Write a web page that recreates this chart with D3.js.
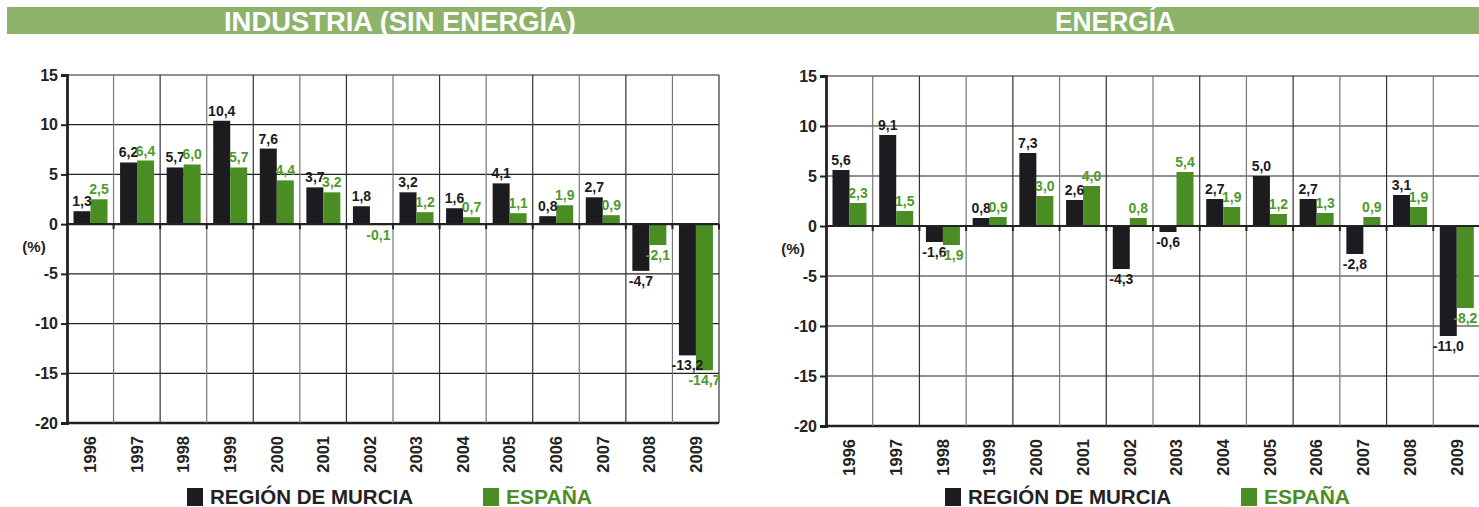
<!DOCTYPE html>
<html>
<head>
<meta charset="utf-8">
<script src="https://cdn.jsdelivr.net/npm/d3@7"></script>
<style>
  body { margin: 0; background: #fff; }
  svg { display: block; font-family: "Liberation Sans", Arial, sans-serif; }
</style>
</head>
<body>
<div id="chart"></div>
<script>
// data
var years = ["1996","1997","1998","1999","2000","2001","2002","2003","2004","2005","2006","2007","2008","2009"];
var series = ["REGIÓN DE MURCIA", "ESPAÑA"];
var yTicks = [15, 10, 5, 0, -5, -10, -15, -20];

var industriaMurcia = [1.3, 6.2, 5.7, 10.4, 7.6, 3.7, 1.8, 3.2, 1.6, 4.1, 0.8, 2.7, -4.7, -13.2];
var industriaEspana = [2.5, 6.4, 6.0, 5.7, 4.4, 3.2, -0.1, 1.2, 0.7, 1.1, 1.9, 0.9, -2.1, -14.7];
var energiaMurcia = [5.6, 9.1, -1.6, 0.8, 7.3, 2.6, -4.3, -0.6, 2.7, 5.0, 2.7, -2.8, 3.1, -11.0];
var energiaEspana = [2.3, 1.5, -1.9, 0.9, 3.0, 4.0, 0.8, 5.4, 1.9, 1.2, 1.3, 0.9, 1.9, -8.2];

var width = 1479, height = 507;
var dark = "#1c1b20", green = "#4a8e23", greenText = "#4f9a2a";

var svg = d3.select("#chart").append("svg")
    .attr("width", width)
    .attr("height", height);

// title band
svg.append("rect")
    .attr("x", 7).attr("y", 7)
    .attr("width", width - 7).attr("height", 27)
    .attr("fill", "#8db36b");

var fmt = function(v) { return d3.format(".1f")(v).replace(".", ",").replace("\u2212", "-"); };
var fmtTick = function(v) { return d3.format("d")(v).replace("\u2212", "-"); };

function drawChart(opt) {
  var g = svg.append("g").attr("transform", "translate(" + opt.left + "," + opt.top + ")");
  var innerWidth = opt.w, innerHeight = opt.h;

  var x0 = d3.scaleBand().domain(years).range([0, innerWidth]).paddingInner(0);
  var x1 = d3.scaleBand().domain(series).range([6.5, 40.5]);
  var y = d3.scaleLinear().domain([-20, 15]).range([innerHeight, 0]);

  var data = years.map(function(yr, i) {
    return { year: yr, vals: [
      { key: series[0], value: opt.a[i] },
      { key: series[1], value: opt.b[i] }
    ]};
  });

  // horizontal grid
  g.append("g").selectAll("line")
    .data(yTicks)
    .enter().append("line")
      .attr("x1", 0).attr("x2", innerWidth)
      .attr("y1", function(d) { return y(d); })
      .attr("y2", function(d) { return y(d); })
      .attr("stroke", "#222")
      .attr("stroke-width", function(d) { return d === -20 ? 2.5 : 1.2; });

  // vertical grid at column boundaries
  g.append("g").selectAll("line")
    .data(years.slice(1).concat(["end"]))
    .enter().append("line")
      .attr("x1", function(d, i) { return x0.step() * (i + 1); })
      .attr("x2", function(d, i) { return x0.step() * (i + 1); })
      .attr("y1", y(15)).attr("y2", y(-20))
      .attr("stroke", function(d, i) { return i % 2 ? "#333" : "#777"; })
      .attr("stroke-width", 1.2);

  var col = g.append("g").selectAll("g")
    .data(data)
    .enter().append("g")
      .attr("transform", function(d) { return "translate(" + x0(d.year) + ",0)"; });

  col.selectAll("rect")
    .data(function(d) { return d.vals; })
    .enter().append("rect")
      .attr("x", function(d) { return x1(d.key); })
      .attr("y", function(d) { return y(Math.max(0, d.value)); })
      .attr("width", x1.bandwidth())
      .attr("height", function(d) { return Math.abs(y(d.value) - y(0)); })
      .attr("fill", function(d, i) { return i ? green : dark; });

  col.selectAll("text")
    .data(function(d) { return d.vals; })
    .enter().append("text")
      .text(function(d) { return fmt(d.value); })
      .attr("x", function(d) { return x1(d.key) + x1.bandwidth() / 2; })
      .attr("y", function(d) { return d.value >= 0 ? y(d.value) - 5 : y(d.value) + 15; })
      .attr("text-anchor", "middle")
      .attr("font-size", "14px")
      .attr("font-weight", "bold")
      .attr("fill", function(d, i) { return i ? greenText : dark; });

  // zero line with small ticks
  g.append("line")
    .attr("x1", 0).attr("x2", innerWidth)
    .attr("y1", y(0)).attr("y2", y(0))
    .attr("stroke", "#222").attr("stroke-width", 2.2);
  g.append("g").selectAll("line")
    .data(years.slice(1).concat(["end"]))
    .enter().append("line")
      .attr("x1", function(d, i) { return x0.step() * (i + 1); })
      .attr("x2", function(d, i) { return x0.step() * (i + 1); })
      .attr("y1", y(0)).attr("y2", y(0) + 5)
      .attr("stroke", "#222").attr("stroke-width", 2);

  // left axis
  var ya = g.append("g")
    .call(d3.axisLeft(y).tickValues(yTicks).tickSize(6).tickPadding(3).tickFormat(fmtTick));
  ya.select(".domain").attr("stroke", "#222").attr("stroke-width", 2.8);
  ya.selectAll(".tick line").attr("stroke", "#222").attr("stroke-width", 2);
  ya.selectAll(".tick text")
    .attr("font-family", "Liberation Sans, Arial, sans-serif")
    .attr("font-size", "16px")
    .attr("font-weight", "bold")
    .attr("fill", "#222");

  g.append("text")
    .attr("x", -33).attr("y", y(0) + 28)
    .attr("text-anchor", "middle")
    .attr("font-size", "15px").attr("font-weight", "bold").attr("fill", "#222")
    .text("(%)");

  // year labels
  g.append("g").selectAll("text")
    .data(years)
    .enter().append("text")
      .attr("transform", function(d) {
        return "translate(" + (x0(d) + x0.bandwidth() / 2) + "," + (innerHeight + 13) + ") rotate(-90)";
      })
      .attr("text-anchor", "end")
      .attr("dy", "0.36em")
      .attr("font-size", "16.5px").attr("font-weight", "bold").attr("fill", "#222")
      .text(function(d) { return d; });

  // title
  svg.append("text")
    .attr("x", opt.titleX).attr("y", 31)
    .attr("text-anchor", "middle")
    .attr("font-size", "27px").attr("font-weight", "bold").attr("fill", "#fff")
    .attr("textLength", opt.titleLen).attr("lengthAdjust", "spacingAndGlyphs")
    .text(opt.title);

  // legend
  var lg = svg.append("g").attr("transform", "translate(" + opt.legendX + ",488)");
  lg.append("rect").attr("x", 0).attr("y", 0).attr("width", 16).attr("height", 18).attr("fill", dark);
  lg.append("text").attr("x", 23).attr("y", 16)
    .attr("font-size", "20px").attr("font-weight", "bold").attr("fill", "#222")
    .attr("textLength", 203).attr("lengthAdjust", "spacingAndGlyphs")
    .text(series[0]);
  lg.append("rect").attr("x", 296).attr("y", 0).attr("width", 16).attr("height", 18).attr("fill", green);
  lg.append("text").attr("x", 319).attr("y", 16)
    .attr("font-size", "20px").attr("font-weight", "bold").attr("fill", green)
    .attr("textLength", 86).attr("lengthAdjust", "spacingAndGlyphs")
    .text(series[1]);
}

drawChart({ left: 67, top: 75, w: 652, h: 348, a: industriaMurcia, b: industriaEspana,
  title: "INDUSTRIA (SIN ENERGÍA)", titleX: 400, titleLen: 352, legendX: 187 });
drawChart({ left: 826, top: 76, w: 654, h: 350, a: energiaMurcia, b: energiaEspana,
  title: "ENERGÍA", titleX: 1115, titleLen: 120, legendX: 945 });
</script>
</body>
</html>
